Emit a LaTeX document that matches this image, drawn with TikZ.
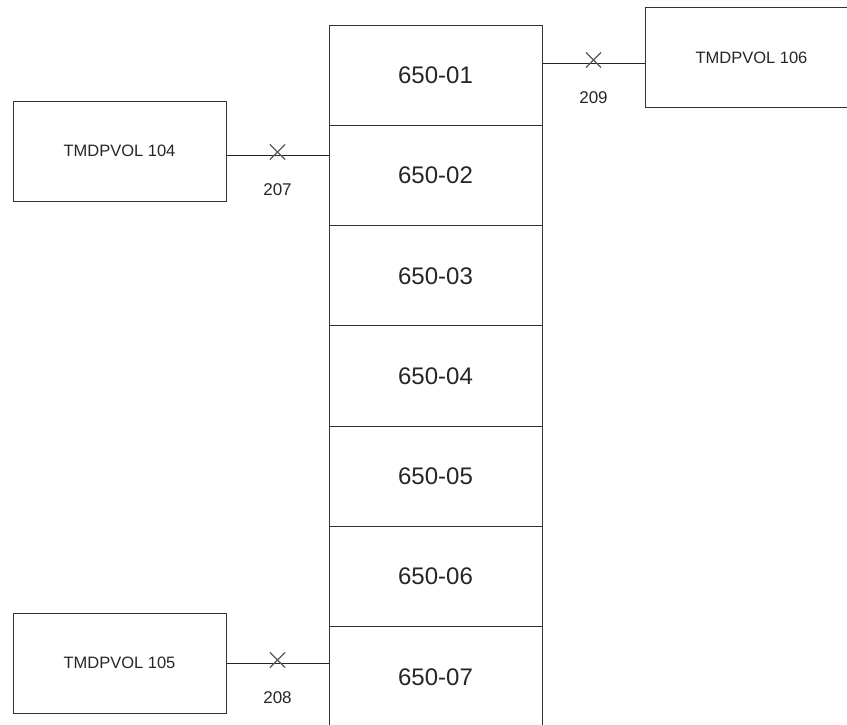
\documentclass[tikz,border=0pt]{standalone}
\usepackage{fontspec}
\setmainfont{Liberation Sans}
\usetikzlibrary{positioning,shapes.misc}

\begin{document}
\begin{tikzpicture}[
      x=1pt, y=-1pt,
      cell/.style={draw=black!80, line width=1pt, minimum width=213pt, minimum height=100.3pt, inner sep=0pt, font=\fontsize{24}{28}\selectfont, text=black!85},
      vol/.style={draw=black!80, line width=1pt, minimum width=213pt, minimum height=100pt, inner sep=0pt, font=\fontsize{16.5}{20}\selectfont, text=black!85},
      jct/.style={cross out, draw=black!65, line width=1.2pt, minimum size=14pt, inner sep=0pt, yshift=3pt},
      num/.style={font=\fontsize{17}{20}\selectfont, text=black!85},
      link/.style={draw=black!85, line width=1pt}
  ]
    \useasboundingbox (0,0) rectangle (847,724);
    % pipe cells
    \foreach \i in {1,...,7}
      \node[cell] (c0\i) at (435.5, {25+100.3*(\i-0.5)}) {650-0\i};
    % boundary volumes
    \node[vol] (v104) at (119.5,151) {TMDPVOL 104};
    \node[vol] (v105) at (119.5,663) {TMDPVOL 105};
    \node[vol] (v106) at (751.5,57.5) {TMDPVOL 106};
    % junctions
    \draw[link] ([yshift=-4pt]v104.east) -- node[jct] (j207) {} ([yshift=-4pt]v104.east -| c02.west);
    \draw[link] (v105.east) -- node[jct] (j208) {} (v105.east -| c07.west);
    \draw[link] ([yshift=-5.5pt]c01.east |- v106.west) -- node[jct] (j209) {} ([yshift=-5.5pt]v106.west);
    \node[num, below=20pt of j207] {207};
    \node[num, below=20pt of j208] {208};
    \node[num, below=20pt of j209] {209};
  \end{tikzpicture}
\end{document}
